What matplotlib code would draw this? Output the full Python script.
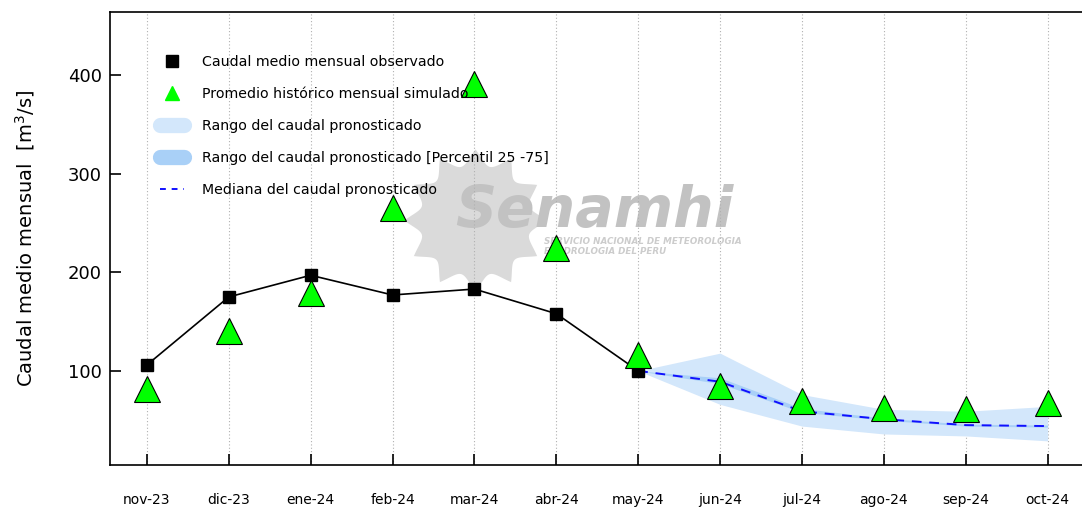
import numpy as np
import matplotlib
matplotlib.use("Agg")
import matplotlib.pyplot as plt
from matplotlib.lines import Line2D
from matplotlib.path import Path

# Data
months = ["nov-23", "dic-23", "ene-24", "feb-24", "mar-24", "abr-24",
          "may-24", "jun-24", "jul-24", "ago-24", "sep-24", "oct-24"]
observed = [106, 175, 197, 177, 183, 158, 100]
hist_sim = [82, 140, 179, 265, 391, 225, 116, 85, 69, 62, 61, 67]

# Forecast (starts at may-24)
fc_max = [100, 118, 76, 61, 59, 64]
fc_min = [100, 66, 44, 36, 34, 29]
fc_p75 = [100, 93, 62, 52, 46, 45]
fc_p25 = [100, 87, 58, 50, 44, 43]
fc_median = [100, 89, 59, 51, 45, 44]

x = np.arange(len(months))
xo = x[:len(observed)]
xf = x[6:]

fig = plt.figure(figsize=(10.82, 5.08), dpi=100)
ax = fig.add_axes([0.1017, 0.0846, 0.8983, 0.8917])

# watermark: grey sun + Senamhi text
th = np.linspace(0, 2 * np.pi, 361)
r = 1 - 0.22 * np.abs(np.sin(6 * th))
sun = Path(np.column_stack([r * np.cos(th), r * np.sin(th)]), closed=True)
ax.scatter([0.376], [0.54], s=10500, marker=sun, color="#dadada",
           transform=ax.transAxes, zorder=0, linewidths=0)
ax.text(0.355, 0.56, "Senamhi", transform=ax.transAxes, fontsize=41,
        fontweight="bold", style="italic", color="#c2c2c2", zorder=0.5,
        va="center", ha="left")
ax.text(0.446, 0.488, "SERVICIO NACIONAL DE METEOROLOGIA", transform=ax.transAxes,
        fontsize=6.3, fontweight="bold", style="italic", color="#cccccc", zorder=0.5)
ax.text(0.446, 0.466, "E HIDROLOGIA DEL PERU", transform=ax.transAxes,
        fontsize=6.3, fontweight="bold", style="italic", color="#cccccc", zorder=0.5)

for xi in x:
    ax.axvline(xi, color="#b0b0b0", linestyle=(0, (1, 2)), linewidth=0.8, zorder=1)

ax.fill_between(xf, fc_min, fc_max, color="#d3e7fb", linewidth=0, zorder=2)
ax.fill_between(xf, fc_p25, fc_p75, color="#a9d0f7", linewidth=0, zorder=2.5)
ax.plot(xf, fc_median, color="#1010ff", linestyle=(0, (5, 4)), linewidth=1.4, zorder=3)

ax.plot(xo, observed, color="black", linewidth=1.2, marker="s", markersize=9,
        markerfacecolor="black", zorder=4)
ax.plot(x, hist_sim, linestyle="none", marker="^", markersize=19,
        markerfacecolor="#00ff00", markeredgecolor="black", markeredgewidth=0.8,
        zorder=5)

ax.set_xlim(-0.45, 11.42)
ax.set_ylim(4.5, 464)
ax.set_xticks(x)
ax.set_xticklabels(months, fontsize=10)
ax.set_yticks([100, 200, 300, 400])
ax.tick_params(axis="y", labelsize=13, length=8, width=1.2, direction="in", pad=6)
ax.tick_params(axis="x", length=8, width=1.2, direction="in", pad=20)
ax.set_ylabel("Caudal medio mensual  [m$^3$/s]", fontsize=14, labelpad=22)
for sp in ax.spines.values():
    sp.set_linewidth(1.2)
ax.spines["right"].set_visible(False)

handles = [
    Line2D([], [], linestyle="none", marker="s", color="black", markersize=8),
    Line2D([], [], linestyle="none", marker="^", color="#00ff00", markersize=10),
    Line2D([], [], color="#d3e7fb", linewidth=11, solid_capstyle="round"),
    Line2D([], [], color="#a9d0f7", linewidth=11, solid_capstyle="round"),
    Line2D([], [], color="#1010ff", linestyle=(0, (3, 3)), linewidth=1.4),
]
labels = ["Caudal medio mensual observado",
          "Promedio histórico mensual simulado",
          "Rango del caudal pronosticado",
          "Rango del caudal pronosticado [Percentil 25 -75]",
          "Mediana del caudal pronosticado"]
ax.legend(handles, labels, loc="upper left", bbox_to_anchor=(0.038, 0.934),
          frameon=False, fontsize=10.2, handlelength=1.7, labelspacing=1.28,
          handletextpad=1.25)

fig.savefig("out.png", dpi=100)
